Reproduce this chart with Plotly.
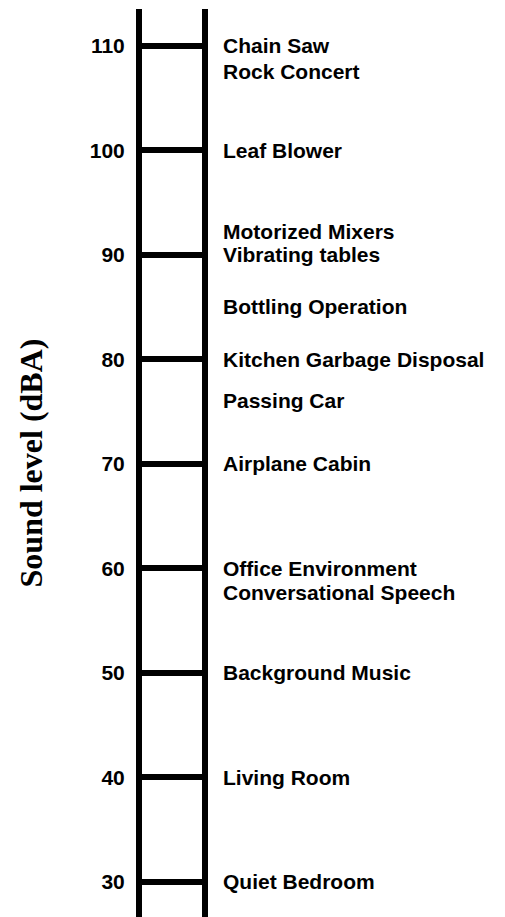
import plotly.graph_objects as go

# Data
tick_values = [30, 40, 50, 60, 70, 80, 90, 100, 110]
tick_labels = ["30", "40", "50", "60", "70", "80", "90", "100", "110"]
source_levels = [110, 107.5, 100, 92.2, 90, 85, 80, 76, 70, 60, 57.7, 50, 40, 30]
source_names = [
    "Chain Saw", "Rock Concert", "Leaf Blower", "Motorized Mixers",
    "Vibrating tables", "Bottling Operation", "Kitchen Garbage Disposal",
    "Passing Car", "Airplane Cabin", "Office Environment",
    "Conversational Speech", "Background Music", "Living Room", "Quiet Bedroom",
]
y_range = [26.62, 113.51]

fig = go.Figure()
# invisible trace so axes exist
fig.add_trace(go.Scatter(x=[0.5] * len(tick_values), y=tick_values, mode="markers",
                         marker=dict(opacity=0), hoverinfo="skip", showlegend=False))

for lvl, name in zip(source_levels, source_names):
    fig.add_annotation(x=1, y=lvl, xref="x", yref="y", text="<b>%s</b>" % name,
                       showarrow=False, xanchor="left", yanchor="middle", xshift=19,
                       font=dict(family="Liberation Sans, Arial", size=21, color="black"))

# page body has an 8px margin, so the figure is sized/offset to compensate
fig.update_layout(
    width=497, height=909,
    margin=dict(l=134, r=303, t=1, b=0),
    plot_bgcolor="white", paper_bgcolor="white",
    showlegend=False,
    xaxis=dict(range=[0, 1], visible=False, showgrid=False, zeroline=False),
    yaxis=dict(
        range=y_range,
        tickvals=tick_values,
        ticktext=["<b>%s</b>" % t for t in tick_labels],
        tickfont=dict(family="Liberation Sans, Arial", size=21, color="black"),
        showgrid=True, gridcolor="black", gridwidth=6,
        zeroline=False,
        showline=True, linecolor="black", linewidth=6, mirror=True,
        ticks="", ticklabelstandoff=7,
        title=dict(text="<b>Sound level (dBA)</b>",
                   font=dict(family="Liberation Serif, Times New Roman", size=32, color="black"),
                   standoff=40),
    ),
)

fig.write_html("out.html")
